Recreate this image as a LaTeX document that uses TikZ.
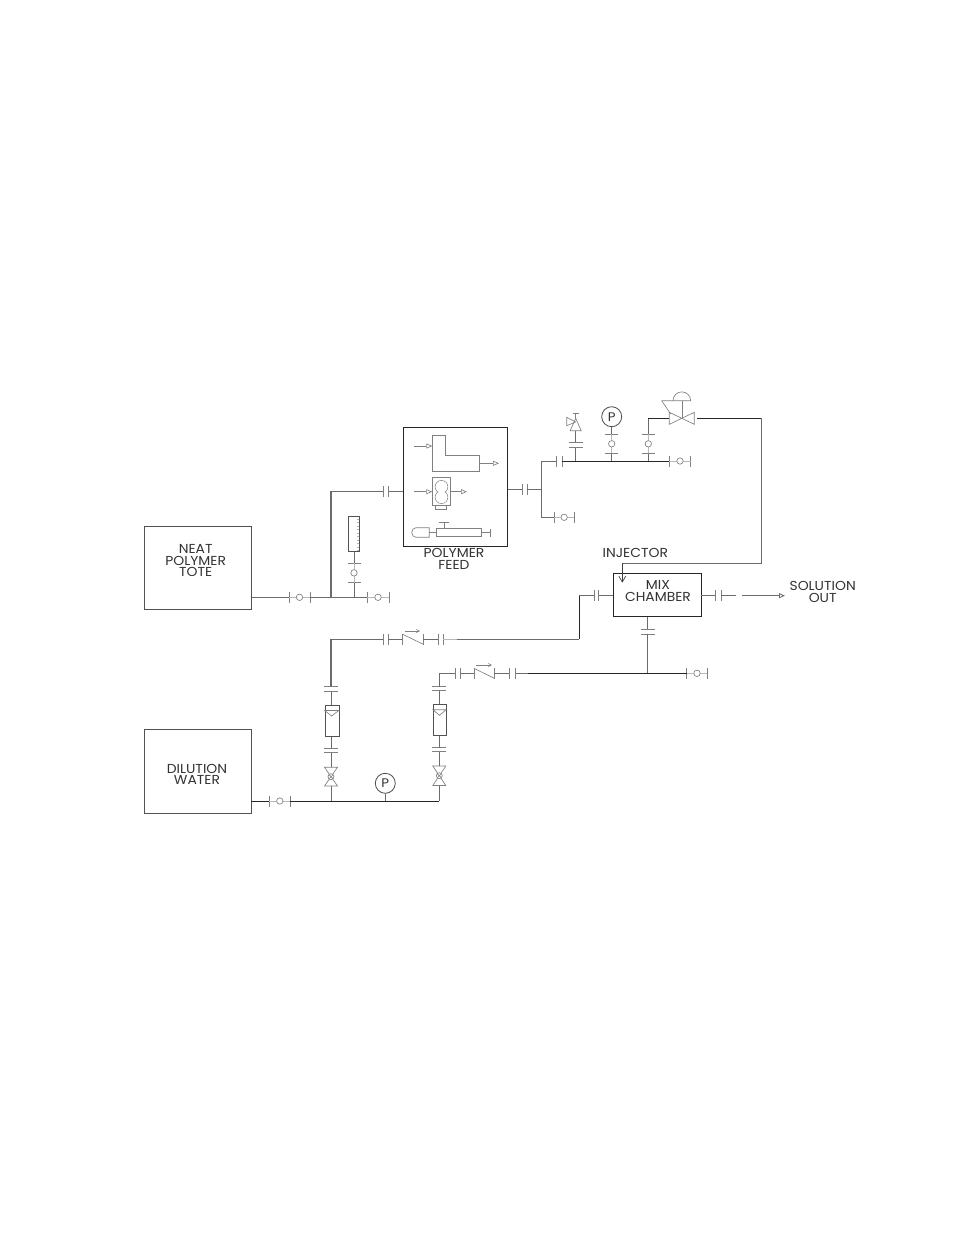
\documentclass[tikz,border=0pt]{standalone}
\usepackage{fontspec}
\setmainfont[FakeStretch=1.07]{Poppins}
\usetikzlibrary{arrows.meta}
\tikzset{
  pipe/.style={draw=black!58,line width=0.85pt},
  dark/.style={draw=black!85,line width=0.8pt},
  thin line/.style={draw=black!50,line width=0.65pt},
  faint/.style={draw=black!28,line width=0.5pt},
  tag/.style={inner sep=0pt,font=\fontsize{13}{14}\selectfont,text=black!80},
  equip/.style={draw=black!68,line width=0.85pt},
  gauge/.style={equip,draw,circle,minimum size=20pt,inner sep=0pt,text=black!80,font=\fontsize{12.5}{13}\selectfont},
  tri/.style={-{Triangle[open,length=6pt,width=5pt]}},
  vee/.style={-{Straight Barb[length=6pt,width=7pt]}},
}
% ball valve along a horizontal run: left tick, circle, right tick
\newcommand{\hball}[3]{% x-left, x-right, y
  \draw[thin line] (#1,#3-5.5) -- (#1,#3+5.5) (#2,#3-5.5) -- (#2,#3+5.5);
  \draw[faint] (#1,#3) -- (#2,#3);
  \filldraw[thin line,fill=white] ({(#1+#2)/2},#3) circle (3.2);
}
% the same along a vertical run
\newcommand{\vball}[3]{% x, y-top, y-bottom
  \draw[thin line] (#1-6.5,#2) -- (#1+6.5,#2) (#1-6.5,#3) -- (#1+6.5,#3);
  \draw[faint] (#1,#2) -- (#1,#3);
  \filldraw[thin line,fill=white] (#1,{(#2+#3)/2}) circle (3.2);
}
\newcommand{\hflange}[3]{\draw[thin line] (#1,#3-5.5) -- (#1,#3+5.5) (#2,#3-5.5) -- (#2,#3+5.5);}
\newcommand{\vflange}[3]{\draw[thin line] (#1-7,#2) -- (#1+7,#2) (#1-7,#3) -- (#1+7,#3);}
% rotameter with the float mark
\newcommand{\rotam}[5]{% xl xr yt yb name
  \node[equip,draw,minimum width={(#2-#1)*1pt},minimum height={(#4-#3)*1pt},inner sep=0pt,anchor=north west] (#5) at (#1,#3) {};
  \draw[thin line] (#1,#3+5.5) -- (#2,#3+5.5) -- ({(#1+#2)/2},#3+11) -- cycle;
}
% hand valve with crossed ball
\newcommand{\hvalve}[4]{% x, y top, y centre, y bottom
  \draw[thin line] (#1-6.5,#2) -- (#1+6.5,#2) -- (#1-6.5,#4) -- (#1+6.5,#4) -- cycle;
  \filldraw[thin line,fill=white] (#1,#3) circle (3);
  \draw[thin line] (#1-2,#3-2) -- (#1+2,#3+2) (#1-2,#3+2) -- (#1+2,#3-2);
}
% check valve
\newcommand{\checkv}[3]{% xl xr y
  \draw[thin line] (#1,#3-5.5) -- (#1,#3+5.5) (#2,#3-5.5) -- (#2,#3+5.5);
  \draw[thin line] (#1,#3-5) -- (#2,#3+5);
}
\begin{document}
\begin{tikzpicture}[x=1pt,y=-1pt]
\useasboundingbox (0,0) rectangle (954,1235);
\fill[white] (0,0) rectangle (954,1235);

% ---------- boxes
\node[equip,draw,minimum width=107.5pt,minimum height=83pt,inner sep=0pt] (tote) at (197.8,567.5) {};
\node[equip,draw,minimum width=107pt,minimum height=83.5pt,inner sep=0pt] (water) at (197.5,771.2) {};
\node[draw=black!85,line width=0.8pt,minimum width=104.5pt,minimum height=119.4pt,inner sep=0pt] (feed) at (455.2,487) {};
\node[draw=black!85,line width=0.8pt,minimum width=87.7pt,minimum height=43pt,inner sep=0pt] (mix) at (657.2,594.8) {};

% ---------- labels
\node[tag] (t1) at (195.7,548.5) {NEAT};
\node[tag] (t2) at (195.7,560.5) {POLYMER};
\node[tag] (t3) at (195.7,572) {TOTE};
\node[tag] (t4) at (197,768.7) {DILUTION};
\node[tag] (t5) at (197,780.3) {WATER};
\node[tag] (t6) at (454,552.7) {POLYMER};
\node[tag] (t7) at (454,564.7) {FEED};
\node[tag] (t8) at (635.3,552.7) {INJECTOR};
\node[tag] (t9) at (658,585) {MIX};
\node[tag] (t10) at (658,597.3) {CHAMBER};
\node[tag] (t11) at (822.7,586.4) {SOLUTION};
\node[tag] (t12) at (822.7,597.6) {OUT};

% ---------- junctions
\coordinate (j1) at (331,597.3);
\coordinate (j1t) at (331,491.7);
\coordinate (j2) at (354,597.3);
\coordinate (j3) at (541,489.3);
\coordinate (j3t) at (541,461);
\coordinate (j3b) at (541,517.3);
\coordinate (rv) at (575.7,461);
\coordinate (pg) at (611.7,461);
\coordinate (cv) at (648.3,461);
\coordinate (cvt) at (648.3,418.3);
\coordinate (cvc) at (682,418.3);
\coordinate (rc) at (761.7,418.3);
\coordinate (rd) at (761.7,563.3);
\coordinate (inj) at (622.3,563.3);
\coordinate (wl) at (331,801);
\coordinate (wp) at (385.3,801);
\coordinate (wr) at (439.3,801);
\coordinate (mixin) at (579.3,595.7);
\coordinate (mixin2) at (579.3,639.3);
\coordinate (wlt) at (331,639.3);
\coordinate (wrt) at (439.3,673.3);
\coordinate (mixb) at (647.7,673.3);

% ---------- polymer line
\draw[pipe] (tote.east |- j1) -- (289,597.3);
\hball{289}{310}{597.3}
\draw[pipe] (310,597.3) -- (367,597.3);
\hball{367}{389}{597.3}
\draw[pipe,line width=1.1pt] (j1) -- (j1t) -- (383.3,491.7);
\draw[pipe] (388.3,491.7) -- (feed.west |- j1t);
\hflange{383.3}{388.3}{491.7}
\draw[pipe] (j2) -- (354,582.7);
\vball{354}{563}{582.7}
\draw[pipe] (354,563) -- (354,551.7);
\node[equip,draw,minimum width=10.6pt,minimum height=35.7pt,inner sep=0pt] (rota) at (354,533.8) {};
\foreach \yy in {519,522.5,526,529.5,533,536.5,540,543.5,547,550}
  \draw[faint] (356.5,\yy) -- (359.3,\yy);

% ---------- inside polymer feed
\draw[thin line] (432.3,435.7) -- (445.7,435.7) -- (445.7,455.7) -- (479.3,455.7) -- (479.3,471.7) -- (432.3,471.7) -- cycle;
\draw[thin line,tri] (414,446) -- (432.3,446);
\draw[thin line,tri] (479.3,463.3) -- (499,463.3);
\draw[thin line] (432.3,477.3) rectangle (450.7,505.7);
\draw[thin line] (435.7,505.7) rectangle (446.7,509.3);
\draw[thin line] (441.5,486.8) circle (6.3) (441.5,497.2) circle (6.3);
\fill[white] (441.5,486.8) circle (5.9) (441.5,497.2) circle (5.9);
\draw[thin line,tri] (414,491.7) -- (432.3,491.7);
\draw[thin line,tri] (450.7,491.7) -- (467,491.7);
\draw[thin line] (429.3,527.7) -- (416,527.7) arc[start angle=-90,end angle=-270,x radius=4.3,y radius=4.8] -- (429.3,537.3) -- cycle;
\draw[thin line] (429.3,532.5) -- (436.7,532.5);
\draw[thin line] (436.7,528.3) rectangle (481.7,536.7);
\draw[thin line] (481.7,532.5) -- (490.7,532.5) (490.7,528.5) -- (490.7,536.5);
\draw[thin line] (444,528.3) -- (444,522.3) (439,522.3) -- (449,522.3);

% ---------- polymer discharge
\draw[pipe] (feed.east |- j3) -- (522.3,489.3);
\hflange{522.3}{527.3}{489.3}
\draw[pipe] (527.3,489.3) -- (j3);
\draw[pipe] (j3t) -- (j3b) -- (554,517.3);
\hball{554}{574.3}{517.3}
\draw[pipe] (j3t) -- (556,461);
\hflange{556}{562.3}{461}
\draw[dark] (562.3,461) -- (669.3,461);
\hball{669.3}{690.7}{461}

% relief valve
\draw[pipe] (rv) -- (575.7,447.3);
\vflange{575.7}{442.3}{447.3}
\draw[pipe] (575.7,442.3) -- (575.7,430.7);
\draw[thin line] (575.7,418.3) -- (581.2,430.7) -- (570.2,430.7) -- cycle;
\draw[thin line] (575.7,422) -- (566.7,417.3) -- (566.7,425.7) -- cycle;
\draw[thin line] (575.7,418.3) -- (575.7,413.3) (572.7,413.3) -- (578.7,413.3);

% pressure gauge, top
\draw[pipe] (pg) -- (611.7,453.3);
\vball{611.7}{434.3}{453.3}
\node[gauge] (p1) at (611.7,416.7) {P};
\draw[pipe] (611.7,434.3) -- (p1.south);

% control valve
\draw[pipe] (cv) -- (648.3,453.3);
\vball{648.3}{434.3}{453.3}
\draw[pipe] (648.3,434.3) -- (cvt);
\draw[dark] (cvt) -- (669.3,418.3);
\draw[thin line] (669.3,412.3) -- (694.3,424.3) -- (694.3,412.3) -- (669.3,424.3) -- cycle;
\draw[thin line] (cvc) -- (682,400.7);
\draw[thin line] (661.7,400.7) -- (690.7,400.7) arc[start angle=0,end angle=-180,radius=8.85];
\draw[thin line] (661.7,400.7) -- (670.7,414);
\draw[dark] (696.7,418.3) -- (rc);
\draw[pipe] (rc) -- (rd) -- (inj);
\draw[draw=black!75,line width=0.7pt,vee] (inj) -- (622.3,582.7);

% ---------- mix chamber connections
\draw[pipe] (mix.west |- mixin) -- (598.3,595.7);
\hflange{594.3}{598.3}{595.7}
\draw[pipe] (594.3,595.7) -- (mixin);
\draw[dark] (mixin) -- (mixin2);
\draw[pipe] (mix.east |- 0,595.7) -- (715.7,595.7);
\hflange{715.7}{721}{595.7}
\draw[pipe] (721,595.7) -- (735.7,595.7);
\draw[pipe,tri] (742.3,595.7) -- (785,595.7);
\draw[pipe] (mixb |- mix.south) -- (647.7,629);
\vflange{647.7}{629}{634.3}
\draw[pipe] (647.7,634.3) -- (mixb);
\hball{686.7}{707.3}{673.3}

% ---------- dilution water
\draw[dark] (water.east |- wl) -- (269.3,801);
\hball{269.3}{290.3}{801}
\draw[dark] (290.3,801) -- (wr);
\node[gauge] (p2) at (385.3,783.3) {P};
\draw[pipe] (p2.south) -- (wp);

% left branch
\draw[pipe] (wl) -- (331,786);
\hvalve{331}{767.3}{776.7}{786}
\draw[pipe] (331,767.3) -- (331,752.3);
\vflange{331}{748.3}{752.3}
\draw[pipe] (331,748.3) -- (331,736);
\rotam{324.7}{338.7}{705}{736}{ra}
\draw[pipe] (331,705) -- (331,691.7);
\vflange{331}{686.7}{691.7}
\draw[pipe,line width=1.1pt] (331,686.7) -- (wlt);
\draw[pipe] (wlt) -- (383.3,639.3);
\hflange{383.3}{388.3}{639.3}
\draw[pipe] (388.3,639.3) -- (402.7,639.3);
\checkv{402.7}{423.3}{639.3}
\draw[thin line,-{Straight Barb[length=3pt,width=3pt]}] (405,631) -- (420,631);
\draw[pipe] (423.3,639.3) -- (438.3,639.3);
\hflange{438.3}{443.3}{639.3}
\draw[faint] (443.3,639.3) -- (456.7,639.3);
\draw[pipe] (456.7,639.3) -- (mixin2);

% right branch
\draw[pipe] (wr) -- (439.3,785.5);
\hvalve{439.3}{766}{775.7}{785.5}
\draw[pipe] (439.3,766) -- (439.3,751.7);
\vflange{439.3}{747.3}{751.7}
\draw[pipe] (439.3,747.3) -- (439.3,735);
\rotam{433}{446}{704.3}{735}{rb}
\draw[pipe] (439.3,704.3) -- (439.3,690.7);
\vflange{439.3}{686.7}{690.7}
\draw[pipe] (439.3,686.7) -- (wrt) -- (455,673.3);
\hflange{455}{460.7}{673.3}
\draw[pipe] (460.7,673.3) -- (474,673.3);
\checkv{474}{494.3}{673.3}
\draw[thin line,-{Straight Barb[length=3pt,width=3pt]}] (476,665) -- (492,665);
\draw[pipe] (494.3,673.3) -- (509,673.3);
\hflange{509}{515.7}{673.3}
\draw[pipe] (515.7,673.3) -- (528,673.3);
\draw[dark] (528,673.3) -- (mixb) -- (686.7,673.3);
\end{tikzpicture}
\end{document}
